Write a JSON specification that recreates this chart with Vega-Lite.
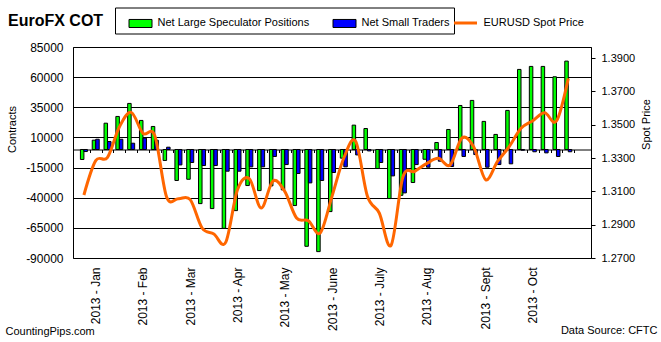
{
  "$schema": "https://vega.github.io/schema/vega-lite/v6.json",
  "width": 518,
  "height": 211,
  "autosize": {"type": "none"},
  "padding": {"left": 73, "top": 47, "right": 70, "bottom": 84},
  "background": "white",
  "config": {
    "font": "Liberation Sans",
    "view": {"stroke": "black", "strokeWidth": 1},
    "axis": {"labelColor": "black", "titleColor": "black", "titleFontWeight": "normal"},
    "legend": {
      "orient": "none", "direction": "horizontal",
      "padding": 3.5, "columnPadding": 13,
      "labelFont": "Liberation Sans", "labelFontSize": 11, "labelColor": "black",
      "labelOffset": 5, "labelLimit": 600, "symbolSize": 529
    }
  },
  "title": {
    "text": "EuroFX COT",
    "anchor": "start",
    "frame": "group",
    "dx": -65,
    "dy": 40,
    "baseline": "alphabetic",
    "font": "Liberation Sans",
    "fontSize": 16,
    "fontWeight": "bold",
    "color": "black"
  },
  "data": {
    "values": [
      {"week": 1, "large": -8300, "small": -1700, "price": 1.3078},
      {"week": 2, "large": 7700, "small": 8500, "price": 1.3284},
      {"week": 3, "large": 21800, "small": 6600, "price": 1.3304},
      {"week": 4, "large": 27400, "small": 8500, "price": 1.3486},
      {"week": 5, "large": 38200, "small": 5200, "price": 1.3574},
      {"week": 6, "large": 24100, "small": 9400, "price": 1.3448},
      {"week": 7, "large": 19100, "small": 7700, "price": 1.3434},
      {"week": 8, "large": -9100, "small": 1900, "price": 1.3066},
      {"week": 9, "large": -25700, "small": -12800, "price": 1.3056},
      {"week": 10, "large": -24700, "small": -10800, "price": 1.3050},
      {"week": 11, "large": -44900, "small": -13300, "price": 1.2880},
      {"week": 12, "large": -49000, "small": -13300, "price": 1.2844},
      {"week": 13, "large": -65400, "small": -18000, "price": 1.2794},
      {"week": 14, "large": -50700, "small": -18000, "price": 1.3110},
      {"week": 15, "large": -29900, "small": -14400, "price": 1.3176},
      {"week": 16, "large": -34100, "small": -14400, "price": 1.3000},
      {"week": 17, "large": -30200, "small": -5800, "price": 1.3162},
      {"week": 18, "large": -33500, "small": -12500, "price": 1.3100},
      {"week": 19, "large": -46500, "small": -19900, "price": 1.2940},
      {"week": 20, "large": -80300, "small": -27700, "price": 1.2924},
      {"week": 21, "large": -84700, "small": -25700, "price": 1.2850},
      {"week": 22, "large": -51500, "small": -19100, "price": 1.3070},
      {"week": 23, "large": -7200, "small": -14400, "price": 1.3300},
      {"week": 24, "large": 20200, "small": -4500, "price": 1.3400},
      {"week": 25, "large": 17400, "small": -1200, "price": 1.3070},
      {"week": 26, "large": -15800, "small": -10800, "price": 1.2970},
      {"week": 27, "large": -40700, "small": -21900, "price": 1.2776},
      {"week": 28, "large": -38000, "small": -36000, "price": 1.3186},
      {"week": 29, "large": -27400, "small": -12500, "price": 1.3220},
      {"week": 30, "large": -8100, "small": -14700, "price": 1.3266},
      {"week": 31, "large": 5800, "small": -9700, "price": 1.3298},
      {"week": 32, "large": 16600, "small": -14100, "price": 1.3258},
      {"week": 33, "large": 36500, "small": -5800, "price": 1.3420},
      {"week": 34, "large": 40700, "small": -4200, "price": 1.3366},
      {"week": 35, "large": 23300, "small": -14700, "price": 1.3170},
      {"week": 36, "large": 12500, "small": -12500, "price": 1.3278},
      {"week": 37, "large": 32400, "small": -11900, "price": 1.3368},
      {"week": 38, "large": 66400, "small": -600, "price": 1.3478},
      {"week": 39, "large": 68900, "small": -1900, "price": 1.3524},
      {"week": 40, "large": 68900, "small": -2800, "price": 1.3572},
      {"week": 41, "large": 60300, "small": -5800, "price": 1.3522},
      {"week": 42, "large": 73300, "small": -1900, "price": 1.3778}
    ]
  },
  "resolve": {"scale": {"y": "independent"}, "axis": {"x": "independent"}},
  "layer": [
    {
      "layer": [
        {
          "mark": {"type": "bar", "width": 3.5, "xOffset": -1.75, "stroke": "black", "strokeWidth": 1},
          "encoding": {
            "x": {
              "field": "week", "type": "quantitative",
              "scale": {"domain": [0.5, 43.5], "nice": false, "zero": false},
              "axis": {
                "orient": "bottom", "offset": -108.5, "tickCount": 100,
                "values": [1.5,2.5,3.5,4.5,5.5,6.5,7.5,8.5,9.5,10.5,11.5,12.5,13.5,14.5,15.5,16.5,17.5,18.5,19.5,20.5,21.5,22.5,23.5,24.5,25.5,26.5,27.5,28.5,29.5,30.5,31.5,32.5,33.5,34.5,35.5,36.5,37.5,38.5,39.5,40.5,41.5,42.5],
                "labels": false, "grid": false,
                "domain": true, "domainColor": "black", "domainWidth": 1,
                "ticks": true, "tickColor": "black", "tickSize": 3, "tickWidth": 1,
                "encode": {"ticks": {"y": {"value": -3}}},
                "title": "Data Source: CFTC",
                "titleFont": "Liberation Sans", "titleFontSize": 11, "titleFontWeight": "normal",
                "titleAnchor": null, "titleAlign": "right", "titleBaseline": "alphabetic",
                "titleX": 584, "titleY": 184, "titleAngle": 0
              }
            },
            "y": {
              "field": "large", "type": "quantitative",
              "scale": {"domain": [-90000, 85000], "nice": false, "zero": false},
              "axis": {
                "orient": "left", "tickCount": 100,
                "values": [-90000, -65000, -40000, -15000, 10000, 35000, 60000, 85000],
                "labelExpr": "'' + datum.value",
                "labelOverlap": false, "labelFlush": false, "labelBound": false,
                "labelFont": "Liberation Sans", "labelFontSize": 12, "labelPadding": 10,
                "grid": true, "gridColor": "black", "gridOpacity": 1, "gridWidth": 1,
                "domain": false, "ticks": false,
                "title": "Contracts",
                "titleFont": "Liberation Sans", "titleFontSize": 11, "titleFontWeight": "normal",
                "titleAngle": 270, "titleAlign": "center", "titleBaseline": "middle",
                "titleX": -61, "titleY": 82
              }
            },
            "y2": {"datum": 0},
            "fill": {
              "datum": "Net Large Speculator Positions",
              "scale": {
                "domain": ["Net Large Speculator Positions", "Net Small Traders"],
                "range": ["#00FF00", "#0000FF"]
              },
              "legend": {
                "title": null,
                "legendX": 42, "legendY": -39.5,
                "columns": 2, "symbolOffset": 10,
                "strokeColor": "black", "fillColor": "white",
                "symbolType": "M-1,-0.35H1V0.35H-1Z",
                "symbolStrokeColor": "black", "symbolStrokeWidth": 1,
                "labelExpr": "datum.label == 'Net Small Traders' ? pad(datum.label, 67, '\u00a0', 'right') : datum.label"
              }
            }
          }
        },
        {
          "mark": {"type": "bar", "width": 3.5, "xOffset": 1.75, "stroke": "black", "strokeWidth": 1},
          "encoding": {
            "x": {"field": "week", "type": "quantitative"},
            "y": {"field": "small", "type": "quantitative"},
            "y2": {"datum": 0},
            "fill": {"datum": "Net Small Traders"}
          }
        }
      ]
    },
    {
      "mark": {"type": "line", "interpolate": "cardinal", "strokeWidth": 3},
      "encoding": {
        "x": {
          "field": "week", "type": "quantitative",
          "axis": {
            "orient": "bottom", "offset": 0, "tickCount": 100,
            "values": [2, 6, 10, 14, 18, 22, 26, 30, 35, 39],
            "labelExpr": "datum.value == 2 ? '2013 - Jan' : datum.value == 6 ? '2013 - Feb' : datum.value == 10 ? '2013 - Mar' : datum.value == 14 ? '2013 - Apr' : datum.value == 18 ? '2013 - May' : datum.value == 22 ? '2013 - June' : datum.value == 26 ? '2013 - July' : datum.value == 30 ? '2013 - Aug' : datum.value == 35 ? '2013 - Sept' : '2013 - Oct'",
            "labelAngle": -90, "labelAlign": "right", "labelBaseline": "middle",
            "labelFont": "Liberation Sans", "labelFontSize": 12, "labelPadding": 9,
            "labelOverlap": false, "labelFlush": false, "labelBound": false,
            "ticks": false, "domain": false, "grid": false,
            "title": "CountingPips.com",
            "titleFont": "Liberation Sans", "titleFontSize": 11, "titleFontWeight": "normal",
            "titleAnchor": null, "titleAlign": "left", "titleBaseline": "alphabetic",
            "titleX": -68, "titleY": 76, "titleAngle": 0
          }
        },
        "y": {
          "field": "price", "type": "quantitative",
          "scale": {"domain": [1.27, 1.3966], "nice": false, "zero": false},
          "axis": {
            "orient": "right", "tickCount": 100,
            "values": [1.27, 1.29, 1.31, 1.33, 1.35, 1.37, 1.39],
            "format": ".4f",
            "labelOverlap": false, "labelFlush": false,
            "labelFont": "Liberation Sans", "labelFontSize": 11, "labelPadding": 6,
            "grid": false, "domain": false,
            "ticks": true, "tickSize": 4, "tickColor": "black",
            "title": "Spot Price",
            "titleFont": "Liberation Sans", "titleFontSize": 11, "titleFontWeight": "normal",
            "titleAngle": 270, "titleAlign": "center", "titleBaseline": "middle",
            "titleX": 55, "titleY": 77
          }
        },
        "stroke": {
          "datum": "EURUSD Spot Price",
          "scale": {"domain": ["EURUSD Spot Price"], "range": ["#FF6600"]},
          "legend": {
            "title": null,
            "legendX": 376, "legendY": -40.5,
            "strokeColor": "transparent", "fillColor": "transparent",
            "symbolType": "M-1,0H1",
            "symbolStrokeWidth": 3
          }
        }
      }
    }
  ]
}
